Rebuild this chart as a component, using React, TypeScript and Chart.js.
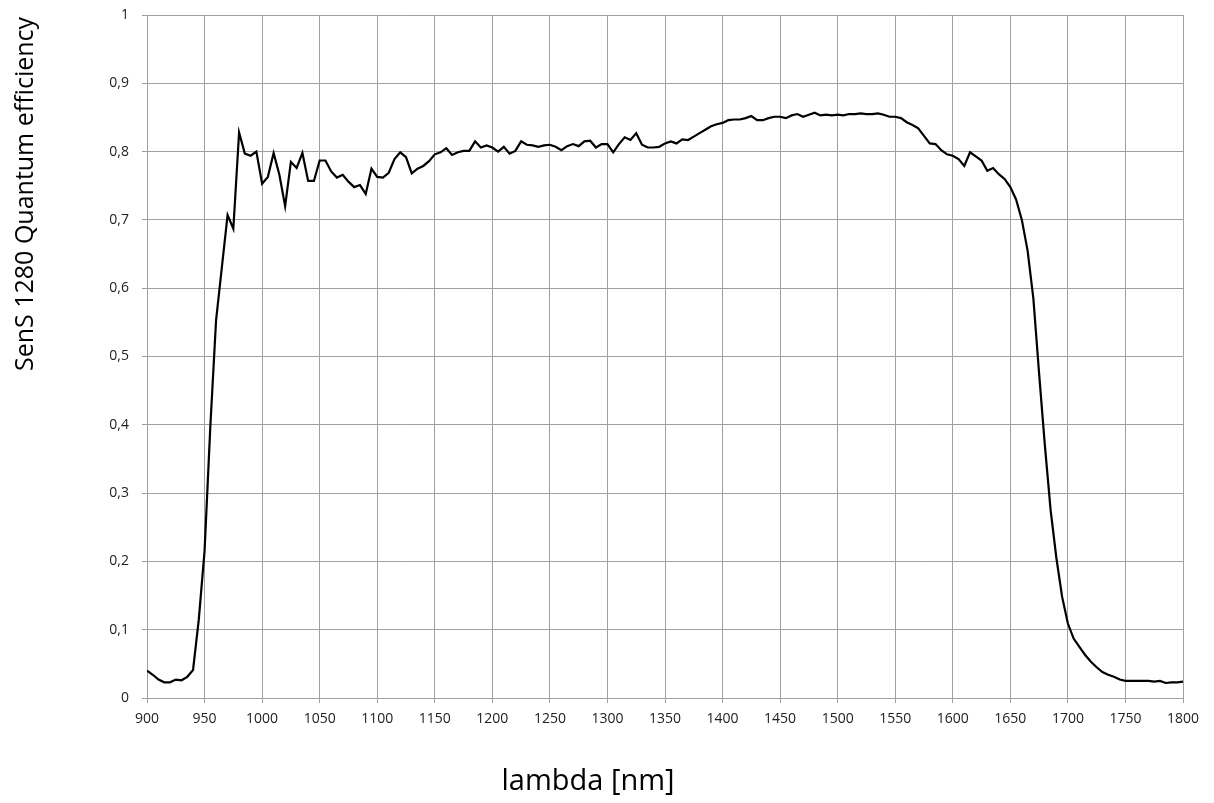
import React, { useEffect, useRef } from "react";
import { Chart, registerables } from "chart.js";

Chart.register(...registerables);

const wavelengths: number[] = [
  900, 905, 910, 915, 920, 925, 930, 935, 940, 945, 950, 955, 960, 965, 970, 975, 980, 985, 990, 995,
  1000, 1005, 1010, 1015, 1020, 1025, 1030, 1035, 1040, 1045, 1050, 1055, 1060, 1065, 1070, 1075, 1080, 1085, 1090, 1095,
  1100, 1105, 1110, 1115, 1120, 1125, 1130, 1135, 1140, 1145, 1150, 1155, 1160, 1165, 1170, 1175, 1180, 1185, 1190, 1195,
  1200, 1205, 1210, 1215, 1220, 1225, 1230, 1235, 1240, 1245, 1250, 1255, 1260, 1265, 1270, 1275, 1280, 1285, 1290, 1295,
  1300, 1305, 1310, 1315, 1320, 1325, 1330, 1335, 1340, 1345, 1350, 1355, 1360, 1365, 1370, 1375, 1380, 1385, 1390, 1395,
  1400, 1405, 1410, 1415, 1420, 1425, 1430, 1435, 1440, 1445, 1450, 1455, 1460, 1465, 1470, 1475, 1480, 1485, 1490, 1495,
  1500, 1505, 1510, 1515, 1520, 1525, 1530, 1535, 1540, 1545, 1550, 1555, 1560, 1565, 1570, 1575, 1580, 1585, 1590, 1595,
  1600, 1605, 1610, 1615, 1620, 1625, 1630, 1635, 1640, 1645, 1650, 1655, 1660, 1665, 1670, 1675, 1680, 1685, 1690, 1695,
  1700, 1705, 1710, 1715, 1720, 1725, 1730, 1735, 1740, 1745, 1750, 1755, 1760, 1765, 1770, 1775, 1780, 1785, 1790, 1795,
  1800,
];

const quantumEfficiency: number[] = [
  0.040, 0.034, 0.027, 0.023, 0.023, 0.027, 0.026, 0.031, 0.041, 0.115, 0.215, 0.397, 0.553, 0.630, 0.707, 0.687, 0.828, 0.797, 0.794, 0.800,
  0.753, 0.763, 0.798, 0.766, 0.720, 0.785, 0.776, 0.798, 0.757, 0.757, 0.787, 0.787, 0.771, 0.762, 0.766, 0.756, 0.748, 0.751, 0.738, 0.775,
  0.763, 0.762, 0.769, 0.789, 0.799, 0.792, 0.768, 0.775, 0.779, 0.786, 0.796, 0.799, 0.805, 0.795, 0.799, 0.801, 0.801, 0.815, 0.806, 0.809,
  0.806, 0.800, 0.807, 0.797, 0.801, 0.815, 0.810, 0.809, 0.807, 0.809, 0.810, 0.807, 0.802, 0.808, 0.811, 0.808, 0.815, 0.816, 0.806, 0.811,
  0.811, 0.799, 0.811, 0.821, 0.817, 0.827, 0.810, 0.806, 0.806, 0.807, 0.812, 0.815, 0.812, 0.818, 0.817, 0.822, 0.827, 0.832, 0.837, 0.840,
  0.842, 0.846, 0.847, 0.847, 0.849, 0.852, 0.846, 0.846, 0.849, 0.851, 0.851, 0.849, 0.853, 0.855, 0.851, 0.854, 0.857, 0.853, 0.854, 0.853,
  0.854, 0.853, 0.855, 0.855, 0.856, 0.855, 0.855, 0.856, 0.854, 0.851, 0.851, 0.849, 0.843, 0.839, 0.834, 0.823, 0.812, 0.811, 0.802, 0.796,
  0.794, 0.789, 0.779, 0.799, 0.793, 0.787, 0.772, 0.776, 0.767, 0.760, 0.748, 0.730, 0.700, 0.655, 0.585, 0.475, 0.370, 0.275, 0.205, 0.148,
  0.109, 0.087, 0.075, 0.063, 0.053, 0.045, 0.038, 0.034, 0.031, 0.027, 0.025, 0.025, 0.025, 0.025, 0.025, 0.024, 0.025, 0.022, 0.023, 0.023,
  0.024,
];

const xTitle = "lambda [nm]";
const yTitle = "SenS 1280 Quantum efficiency";

const FONT = "'Open Sans', 'Noto Sans', sans-serif";
const GRID = "#a0a0a0";

const titlesPlugin = {
  id: "customTitles",
  afterDraw(chart: any) {
    const ctx = chart.ctx as CanvasRenderingContext2D;
    ctx.save();
    ctx.fillStyle = "#000";
    ctx.font = `29px ${FONT}`;
    ctx.textAlign = "center";
    ctx.textBaseline = "alphabetic";
    ctx.fillText(xTitle, 588, 790);
    ctx.translate(33, 194);
    ctx.rotate(-Math.PI / 2);
    ctx.font = `25px ${FONT}`;
    ctx.fillText(yTitle, 0, 0);
    ctx.restore();
  },
};

export default function App() {
  const ref = useRef<HTMLCanvasElement | null>(null);

  useEffect(() => {
    if (!ref.current) return;
    const chart = new Chart(ref.current, {
      type: "line",
      data: {
        datasets: [
          {
            data: wavelengths.map((w, i) => ({ x: w, y: quantumEfficiency[i] })),
            borderColor: "#000000",
            borderWidth: 2.2,
            pointRadius: 0,
            tension: 0,
            fill: false,
          },
        ],
      },
      options: {
        animation: false,
        responsive: false,
        maintainAspectRatio: false,
        layout: { padding: { top: 15, right: 31, left: 0, bottom: 0 } },
        plugins: {
          legend: { display: false },
          tooltip: { enabled: false },
        },
        scales: {
          x: {
            type: "linear",
            min: 900,
            max: 1800,
            afterFit: (s: any) => {
              s.height = 105;
              s.paddingLeft = 0;
              s.paddingRight = 0;
            },
            ticks: {
              stepSize: 50,
              autoSkip: false,
              maxRotation: 0,
              color: "#222",
              font: { family: FONT, size: 14 },
              padding: 8,
              callback: (v: any) => String(Math.round(Number(v))),
            },
            grid: { color: GRID, lineWidth: 1, tickLength: 5 },
            border: { color: GRID, width: 1 },
          },
          y: {
            min: 0,
            max: 1,
            afterFit: (s: any) => {
              s.width = 147;
              s.paddingTop = 0;
              s.paddingBottom = 0;
            },
            ticks: {
              stepSize: 0.1,
              color: "#222",
              font: { family: FONT, size: 14 },
              padding: 13,
              callback: (v: any) => String(Math.round(Number(v) * 10) / 10).replace(".", ","),
            },
            grid: { color: GRID, lineWidth: 1, tickLength: 5 },
            border: { color: GRID, width: 1 },
          },
        },
      },
      plugins: [titlesPlugin],
    });
    return () => chart.destroy();
  }, []);

  return (
    <div style={{ position: "fixed", left: 0, top: 0, width: 1214, height: 803, background: "#fff" }}>
      <canvas ref={ref} width={1214} height={803} style={{ display: "block" }} />
    </div>
  );
}
